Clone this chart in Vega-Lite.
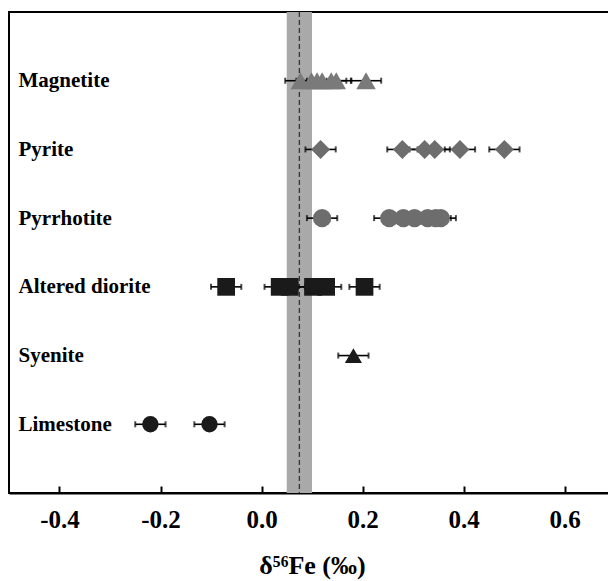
{
  "$schema": "https://vega.github.io/schema/vega-lite/v6.json",
  "width": 606,
  "height": 481,
  "autosize": {"type": "none"},
  "padding": {"left": 9, "top": 12, "right": 0, "bottom": 88},
  "background": "white",
  "config": {
    "font": "Liberation Serif",
    "view": {"stroke": "black", "strokeWidth": 2},
    "axisX": {
      "grid": false,
      "zindex": 1,
      "domainColor": "black",
      "domainWidth": 2,
      "ticks": true,
      "tickColor": "black",
      "tickWidth": 2,
      "labelFont": "Liberation Serif",
      "labelFontWeight": "bold",
      "labelFontSize": 25,
      "labelColor": "black",
      "titleFont": "Liberation Serif",
      "titleFontWeight": "bold",
      "titleFontSize": 26,
      "titleColor": "black",
      "titlePadding": 20
    },
    "axisY": {
      "domain": false,
      "ticks": false,
      "grid": false,
      "labelAlign": "left",
      "labelBaseline": "middle",
      "labelPadding": -9,
      "labelFont": "Liberation Serif",
      "labelFontWeight": "bold",
      "labelFontSize": 21,
      "labelColor": "black"
    }
  },
  "datasets": {
    "bulk": [
      {"lo": 0.05, "hi": 0.10, "mean": 0.075}
    ],
    "samples": [
      {"sample": "Magnetite", "d56Fe": 0.077, "err": 0.03},
      {"sample": "Magnetite", "d56Fe": 0.099, "err": 0.03},
      {"sample": "Magnetite", "d56Fe": 0.110, "err": 0.03},
      {"sample": "Magnetite", "d56Fe": 0.120, "err": 0.03},
      {"sample": "Magnetite", "d56Fe": 0.138, "err": 0.03},
      {"sample": "Magnetite", "d56Fe": 0.148, "err": 0.03},
      {"sample": "Magnetite", "d56Fe": 0.207, "err": 0.03},
      {"sample": "Pyrite", "d56Fe": 0.117, "err": 0.03},
      {"sample": "Pyrite", "d56Fe": 0.279, "err": 0.03},
      {"sample": "Pyrite", "d56Fe": 0.323, "err": 0.03},
      {"sample": "Pyrite", "d56Fe": 0.343, "err": 0.03},
      {"sample": "Pyrite", "d56Fe": 0.393, "err": 0.03},
      {"sample": "Pyrite", "d56Fe": 0.481, "err": 0.03},
      {"sample": "Pyrrhotite", "d56Fe": 0.120, "err": 0.03},
      {"sample": "Pyrrhotite", "d56Fe": 0.253, "err": 0.03},
      {"sample": "Pyrrhotite", "d56Fe": 0.281, "err": 0.03},
      {"sample": "Pyrrhotite", "d56Fe": 0.303, "err": 0.03},
      {"sample": "Pyrrhotite", "d56Fe": 0.329, "err": 0.03},
      {"sample": "Pyrrhotite", "d56Fe": 0.345, "err": 0.03},
      {"sample": "Pyrrhotite", "d56Fe": 0.355, "err": 0.03},
      {"sample": "Altered diorite", "d56Fe": -0.070, "err": 0.03},
      {"sample": "Altered diorite", "d56Fe": 0.036, "err": 0.03},
      {"sample": "Altered diorite", "d56Fe": 0.056, "err": 0.03},
      {"sample": "Altered diorite", "d56Fe": 0.102, "err": 0.03},
      {"sample": "Altered diorite", "d56Fe": 0.128, "err": 0.03},
      {"sample": "Altered diorite", "d56Fe": 0.204, "err": 0.03},
      {"sample": "Syenite", "d56Fe": 0.182, "err": 0.03},
      {"sample": "Limestone", "d56Fe": -0.220, "err": 0.03},
      {"sample": "Limestone", "d56Fe": -0.103, "err": 0.03}
    ]
  },
  "layer": [
    {
      "data": {"name": "bulk"},
      "mark": {"type": "rect", "color": "#a9a9a9"},
      "encoding": {
        "x": {
          "field": "lo", "type": "quantitative",
          "scale": {"domain": [-0.5, 0.7], "nice": false, "zero": false},
          "title": "δ⁵⁶Fe (‰)",
          "axis": {"values": [-0.4, -0.2, 0, 0.2, 0.4, 0.6], "tickSize": -7, "labelPadding": 21, "labelExpr": "replace(format(datum.value, '.1f'), '−', '-')"}
        },
        "x2": {"field": "hi"}
      }
    },
    {
      "data": {"name": "bulk"},
      "mark": {"type": "rule", "color": "#333333", "strokeWidth": 1.3, "strokeDash": [5, 3]},
      "encoding": {
        "x": {
          "field": "mean", "type": "quantitative",
          "title": "δ⁵⁶Fe (‰)",
          "axis": {"values": [-0.4, -0.2, 0, 0.2, 0.4, 0.6], "tickSize": -7, "labelPadding": 21, "labelExpr": "replace(format(datum.value, '.1f'), '−', '-')"}
        }
      }
    },
    {
      "data": {"name": "samples"},
      "mark": {"type": "errorbar", "color": "black", "thickness": 1.6, "ticks": {"size": 6, "thickness": 2}},
      "encoding": {
        "x": {
          "field": "d56Fe", "type": "quantitative",
          "title": "δ⁵⁶Fe (‰)",
          "axis": {"values": [-0.4, -0.2, 0, 0.2, 0.4, 0.6], "tickSize": -7, "labelPadding": 21, "labelExpr": "replace(format(datum.value, '.1f'), '−', '-')"}
        },
        "xError": {"field": "err"},
        "y": {
          "field": "sample", "type": "nominal",
          "sort": ["Magnetite", "Pyrite", "Pyrrhotite", "Altered diorite", "Syenite", "Limestone"],
          "scale": {"type": "point", "padding": 1},
          "title": null
        }
      }
    },
    {
      "data": {"name": "samples"},
      "mark": {"type": "point", "filled": true, "opacity": 1, "strokeWidth": 0},
      "encoding": {
        "x": {
          "field": "d56Fe", "type": "quantitative",
          "title": "δ⁵⁶Fe (‰)",
          "axis": {"values": [-0.4, -0.2, 0, 0.2, 0.4, 0.6], "tickSize": -7, "labelPadding": 21, "labelExpr": "replace(format(datum.value, '.1f'), '−', '-')"}
        },
        "y": {
          "field": "sample", "type": "nominal",
          "sort": ["Magnetite", "Pyrite", "Pyrrhotite", "Altered diorite", "Syenite", "Limestone"],
          "scale": {"type": "point", "padding": 1},
          "title": null
        },
        "shape": {
          "field": "sample", "type": "nominal", "legend": null,
          "scale": {
            "domain": ["Magnetite", "Pyrite", "Pyrrhotite", "Altered diorite", "Syenite", "Limestone"],
            "range": ["triangle-up", "diamond", "circle", "square", "triangle-up", "circle"]
          }
        },
        "color": {
          "field": "sample", "type": "nominal", "legend": null,
          "scale": {
            "domain": ["Magnetite", "Pyrite", "Pyrrhotite", "Altered diorite", "Syenite", "Limestone"],
            "range": ["#7a7a7a", "#6d6d6d", "#6d6d6d", "#1a1a1a", "#1a1a1a", "#1a1a1a"]
          }
        },
        "size": {
          "field": "sample", "type": "nominal", "legend": null,
          "scale": {
            "domain": ["Magnetite", "Pyrite", "Pyrrhotite", "Altered diorite", "Syenite", "Limestone"],
            "range": [380, 270, 230, 185, 210, 200]
          }
        }
      }
    }
  ]
}
